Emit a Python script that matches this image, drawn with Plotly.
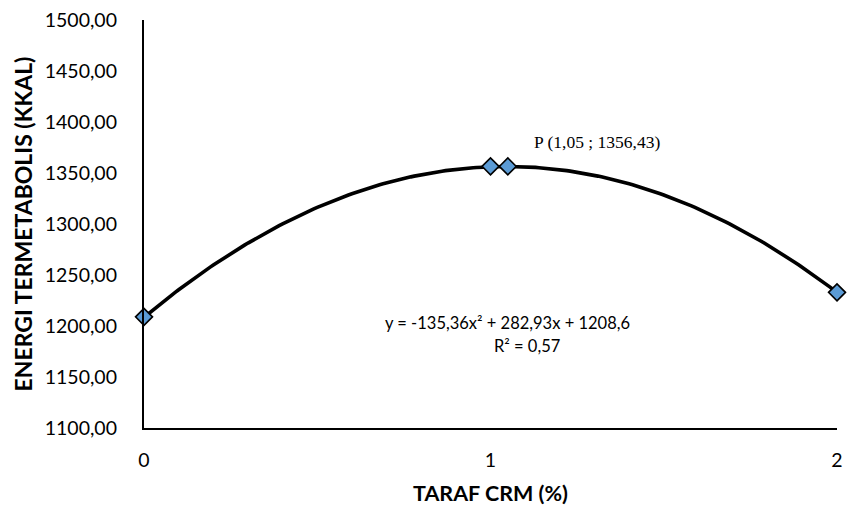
import numpy as np
import plotly.graph_objects as go

# Observed means per CRM level
taraf = [0, 1, 2]
energi = [1209.0, 1356.5, 1233.0]

# Optimum point of the quadratic response
p_x = [1.05]
p_y = [1356.43]

# Quadratic trendline coefficients (y = a x^2 + b x + c)
a, b, c = -135.36, 282.93, 1208.6
r2 = 0.57

y_ticks = [1100, 1150, 1200, 1250, 1300, 1350, 1400, 1450, 1500]
y_tick_text = [f"{v:.2f}".replace(".", ",") for v in y_ticks]
x_ticks = [0, 1, 2]

xs = np.linspace(0, 2, 201)
ys = a * xs**2 + b * xs + c

fig = go.Figure()
fig.add_trace(go.Scatter(x=xs, y=ys, mode="lines",
                         line=dict(color="black", width=3.6),
                         hoverinfo="skip", cliponaxis=False))
marker = dict(symbol="diamond", size=13, color="#5B9BD5",
              line=dict(color="black", width=1.6))
fig.add_trace(go.Scatter(x=taraf, y=energi, mode="markers", marker=marker,
                         cliponaxis=False))
fig.add_trace(go.Scatter(x=p_x, y=p_y, mode="markers", marker=marker,
                         cliponaxis=False))

def fmt(v):
    return f"{v}".replace(".", ",")

eq_font = dict(family="Lato", size=16.5, color="black")
fig.add_annotation(x=1.048, y=1202.7, xref="x", yref="y",
                   text=f"y = {fmt(a)}x² + {fmt(b)}x + {fmt(c)}",
                   showarrow=False, font=eq_font)
fig.add_annotation(x=1.105, y=1180.2, xref="x", yref="y",
                   text=f"R² = {fmt(r2)}",
                   showarrow=False, font=eq_font)
fig.add_annotation(x=1.119, y=1380.4, xref="x", yref="y",
                   text=f"P ({fmt(p_x[0])} ; {fmt(p_y[0])})",
                   showarrow=False, xanchor="left", yanchor="middle",
                   font=dict(family="Liberation Serif", size=17.5, color="black"))

fig.update_layout(
    width=850, height=510,
    margin=dict(l=144, r=7, t=20, b=82),
    paper_bgcolor="white", plot_bgcolor="white",
    showlegend=False,
    font=dict(family="Lato", color="black"),
    xaxis=dict(range=[0, 2], tickvals=x_ticks, ticktext=[str(v) for v in x_ticks],
               showgrid=False, zeroline=False, showline=True,
               linecolor="black", linewidth=2.2, ticks="",
               tickfont=dict(size=19.5), ticklabelstandoff=13,
               title=dict(text="<b>TARAF CRM (%)</b>", font=dict(size=21.5),
                          standoff=16)),
    yaxis=dict(range=[1100, 1500], tickvals=y_ticks, ticktext=y_tick_text,
               showgrid=False, zeroline=False, showline=True,
               linecolor="black", linewidth=2.2, ticks="",
               tickfont=dict(size=19.5), ticklabelstandoff=21,
               title=dict(text="<b>ENERGI TERMETABOLIS (KKAL)</b>",
                          font=dict(size=23), standoff=6)),
)

fig.write_html("out.html")
